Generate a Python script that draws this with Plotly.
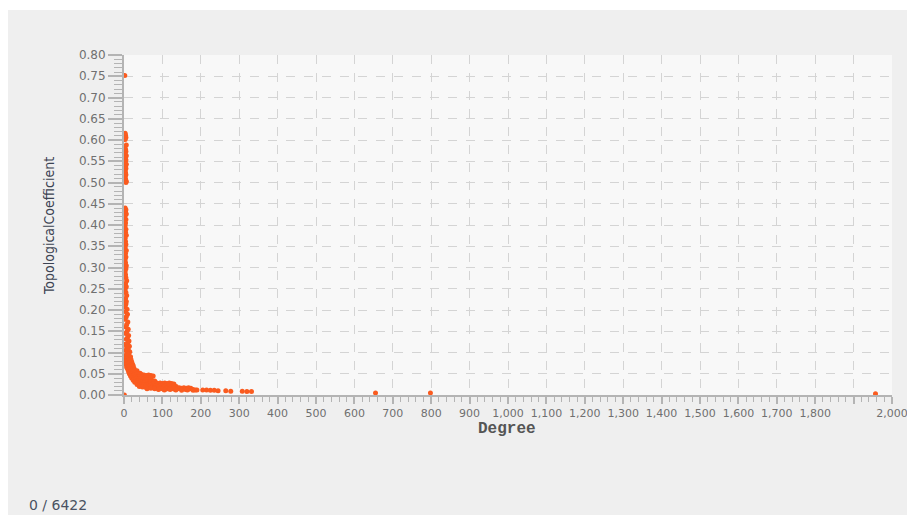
import plotly.graph_objects as go

# Degree vs. topological coefficient for the network nodes.
# Low-degree nodes with high coefficients (upper part of the vertical band)
degree_low = [2, 3, 4, 5, 3, 6, 2, 4, 5, 3,
              6, 4, 5, 3, 6, 4, 5, 3, 4, 5,
              3, 4, 6, 5, 3, 5, 4, 6, 3, 5,
              4, 3, 5, 4, 6, 3, 4, 5, 3, 6,
              4, 5, 3, 4, 6, 5, 3, 4, 5, 7,
              4, 6, 3, 5, 7, 4, 6, 5, 3, 8]
coef_low = [.752, .616, .611, .606, .601, .588, .583, .578, .573, .568,
            .563, .558, .553, .548, .543, .538, .533, .528, .523, .518,
            .513, .508, .503, .500, .440, .436, .431, .426, .421, .413,
            .405, .398, .390, .383, .376, .369, .361, .354, .347, .340,
            .333, .325, .318, .311, .304, .297, .290, .283, .276, .269,
            .262, .255, .248, .241, .234, .227, .220, .214, .208, .202]

# Steep part of the decay
degree_mid = [4, 9, 6, 3, 10, 7, 5, 11, 8, 4,
              12, 9, 6, 13, 10, 3, 14, 7, 11, 5,
              15, 8, 12, 4, 17, 10, 6, 18, 13, 3,
              20, 15, 9, 5, 22, 16, 11, 7, 24, 18]
coef_mid = [.196, .190, .184, .178, .172, .166, .160, .155, .150, .145,
            .140, .135, .131, .127, .123, .119, .115, .111, .108, .105,
            .102, .099, .096, .093, .090, .088, .086, .084, .082, .080,
            .078, .076, .074, .072, .073, .070, .068, .066, .069, .065]

# Dense tail of the curve
degree_tail = [8, 14, 20, 26, 10, 16, 22, 28, 34, 12,
               18, 24, 30, 36, 42, 14, 20, 27, 33, 40,
               46, 52, 58, 64, 70, 76, 17, 23, 29, 35,
               41, 48, 55, 62, 69, 20, 26, 32, 38, 44,
               50, 56, 62, 68, 74, 80, 24, 30, 36, 42,
               48, 54, 60, 66, 72, 78, 84, 28, 34, 40,
               46, 52, 58, 64, 70, 76, 82, 88, 94, 100,
               106, 112, 118, 124, 130, 34, 40, 46, 52, 58,
               64, 70, 76, 82, 88, 94, 100, 106, 112, 118,
               124, 130, 136, 40, 48, 56, 64, 72, 80, 88,
               96, 104, 112, 120, 128, 136, 144, 150, 156, 162,
               168, 174, 60, 70, 80, 90, 100, 110, 120, 130,
               140, 150, 160, 170, 180, 186, 90, 105, 120, 135,
               150, 165, 180, 190]
coef_tail = [.064, .066, .067, .063, .060, .061, .060, .058, .057, .055,
             .056, .054, .053, .052, .051, .050, .049, .048, .049, .050,
             .048, .047, .046, .047, .046, .045, .045, .044, .043, .042,
             .043, .042, .041, .040, .040, .040, .039, .038, .037, .038,
             .037, .036, .035, .035, .034, .033, .035, .034, .033, .032,
             .031, .032, .031, .030, .031, .030, .029, .030, .029, .028,
             .027, .028, .027, .026, .027, .026, .025, .027, .028, .027,
             .028, .027, .028, .027, .026, .025, .024, .023, .024, .023,
             .022, .023, .022, .021, .022, .021, .022, .021, .020, .021,
             .020, .021, .020, .020, .019, .018, .019, .018, .017, .018,
             .017, .018, .017, .016, .017, .016, .017, .016, .017, .016,
             .017, .016, .015, .016, .015, .014, .015, .014, .015, .014,
             .015, .014, .013, .014, .013, .012, .013, .012, .013, .012,
             .011, .012, .011, .012]

# Sparse high-degree hubs
degree_hubs = [205, 215, 225, 235, 245, 265, 278, 308, 320, 332,
               655, 798, 1957, 1]
coef_hubs = [.012, .012, .011, .011, .010, .010, .009, .009, .008, .008,
             .005, .005, .003, .000]

x_tick_values = list(range(0, 2001, 100))
x_tick_labels = ["0", "100", "200", "300", "400", "500", "600", "700", "800",
                 "900", "1,000", "1,100", "1,200", "1,300", "1,400", "1,500",
                 "1,600", "1,700", "1,800", "", "2,000"]

degree = degree_low + degree_mid + degree_tail + degree_hubs
coefficient = coef_low + coef_mid + coef_tail + coef_hubs

POINT_COLOR = "#fa5b1f"
AXIS_COLOR = "#b4b4b4"
GRID_COLOR = "#d4d4d4"
TICK_FONT_COLOR = "#707070"

# plot area: x 124..892 px, y 55..395 px
PLOT_L, PLOT_R, PLOT_T, PLOT_B = 124, 892, 55, 395
PLOT_W, PLOT_H = PLOT_R - PLOT_L, PLOT_B - PLOT_T


def px_x(px):
    return (px - PLOT_L) / PLOT_W


def px_y(py):
    return (PLOT_B - py) / PLOT_H


fig = go.Figure(
    go.Scatter(
        x=degree,
        y=coefficient,
        mode="markers",
        marker=dict(color=POINT_COLOR, size=5, line=dict(width=0)),
        hoverinfo="x+y",
    )
)

fig.update_layout(
    width=907,
    height=515,
    autosize=False,
    margin=dict(l=PLOT_L, r=907 - PLOT_R, t=PLOT_T, b=515 - PLOT_B, pad=0),
    paper_bgcolor="#efefef",
    plot_bgcolor="#f8f8f8",
    showlegend=False,
    xaxis=dict(
        range=[0, 2000],
        automargin=False,
        tickmode="array",
        tickvals=x_tick_values,
        ticktext=x_tick_labels,
        ticklabeloverflow="allow",
        showgrid=True,
        gridcolor=GRID_COLOR,
        griddash="dash",
        gridwidth=1,
        zeroline=False,
        showline=True,
        linecolor=AXIS_COLOR,
        linewidth=2,
        ticks="outside",
        ticklen=7,
        tickwidth=2,
        tickcolor=AXIS_COLOR,
        tickfont=dict(family="DejaVu Sans", size=11, color=TICK_FONT_COLOR),
        minor=dict(tickmode="linear", tick0=0, dtick=20, ticks="outside",
                   ticklen=5, tickwidth=1, tickcolor=AXIS_COLOR, showgrid=False),
    ),
    yaxis=dict(
        range=[0, 0.8],
        automargin=False,
        tickmode="linear",
        tick0=0,
        dtick=0.05,
        tickformat=".2f",
        showgrid=True,
        gridcolor=GRID_COLOR,
        griddash="dash",
        gridwidth=1,
        zeroline=False,
        showline=True,
        linecolor=AXIS_COLOR,
        linewidth=2,
        ticks="outside",
        ticklen=14,
        tickwidth=2,
        tickcolor=AXIS_COLOR,
        tickfont=dict(family="DejaVu Sans", size=12, color=TICK_FONT_COLOR),
        minor=dict(tickmode="linear", tick0=0, dtick=0.01, ticks="outside",
                   ticklen=8, tickwidth=1, tickcolor=AXIS_COLOR, showgrid=False),
    ),
    shapes=[
        # white frame strips around the grey panel
        dict(type="rect", xref="paper", yref="paper", x0=px_x(-50), x1=px_x(960),
             y0=px_y(10), y1=px_y(-50), fillcolor="white", line=dict(width=0),
             layer="above"),
        dict(type="rect", xref="paper", yref="paper", x0=px_x(-50), x1=px_x(8),
             y0=px_y(560), y1=px_y(-50), fillcolor="white", line=dict(width=0),
             layer="above"),
    ],
    annotations=[
        dict(text="<b>Degree</b>", xref="paper", yref="paper", x=px_x(507), y=px_y(429),
             xanchor="center", yanchor="middle", showarrow=False,
             font=dict(family="Liberation Mono", size=16, color="#555555")),
        dict(text="TopologicalCoefficient", xref="paper", yref="paper",
             x=px_x(49), y=px_y(226), textangle=-90, xanchor="center", yanchor="middle",
             showarrow=False,
             font=dict(family="Liberation Sans Narrow, DejaVu Sans Condensed",
                       size=14, color="#3c4352")),
        dict(text="0 / 6422", xref="paper", yref="paper", x=px_x(27), y=px_y(505),
             xanchor="left", yanchor="middle", showarrow=False,
             font=dict(family="DejaVu Sans", size=14, color="#4a5262")),
    ],
)

fig.write_html("out.html")
